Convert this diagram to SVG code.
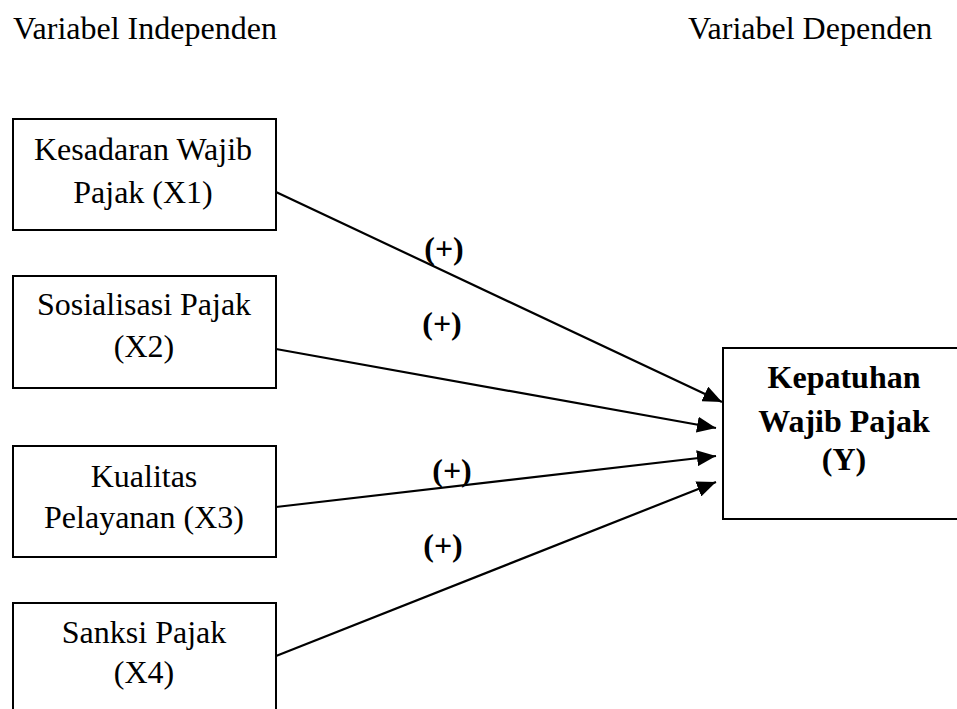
<svg xmlns="http://www.w3.org/2000/svg" width="957" height="709" viewBox="0 0 957 709">
<style>
.t{font-family:"Liberation Serif","Times New Roman",serif;font-size:32px;fill:#000}
.b{font-weight:bold}
.box{fill:#fff;stroke:#000;stroke-width:2}
.c{stroke:#000;stroke-width:2.2;fill:none}
</style>
<defs>
<marker id="ah" markerUnits="userSpaceOnUse" markerWidth="20" markerHeight="16" refX="19" refY="8" orient="auto">
<path d="M0,0 L19,8 L0,16 Z" fill="#000"/>
</marker>
</defs>
<rect width="957" height="709" fill="#fff"/>
<text class="t" x="13" y="39">Variabel Independen</text>
<text class="t" x="688" y="39">Variabel Dependen</text>
<g id="x1">
<rect class="box" x="13" y="119" width="263" height="111"/>
<text class="t" x="143" y="160" text-anchor="middle">Kesadaran Wajib</text>
<text class="t" x="143" y="203" text-anchor="middle">Pajak (X1)</text>
</g>
<g id="x2">
<rect class="box" x="13" y="276" width="263" height="112"/>
<text class="t" x="144" y="315" text-anchor="middle">Sosialisasi Pajak</text>
<text class="t" x="144" y="357" text-anchor="middle">(X2)</text>
</g>
<g id="x3">
<rect class="box" x="13" y="446" width="263" height="111"/>
<text class="t" x="144" y="487" text-anchor="middle">Kualitas</text>
<text class="t" x="144" y="528" text-anchor="middle">Pelayanan (X3)</text>
</g>
<g id="x4">
<rect class="box" x="13" y="603" width="263" height="111"/>
<text class="t" x="144" y="643" text-anchor="middle">Sanksi Pajak</text>
<text class="t" x="144" y="683" text-anchor="middle">(X4)</text>
</g>
<g id="y">
<rect class="box" x="723" y="348" width="250" height="171"/>
<text class="t b" x="844" y="388" text-anchor="middle">Kepatuhan</text>
<text class="t b" x="844" y="432" text-anchor="middle">Wajib Pajak</text>
<text class="t b" x="844" y="470" text-anchor="middle">(Y)</text>
</g>
<g id="connectors">
<line class="c" x1="276" y1="192" x2="722" y2="402" marker-end="url(#ah)"/>
<line class="c" x1="276" y1="349" x2="716" y2="428" marker-end="url(#ah)"/>
<line class="c" x1="276" y1="507" x2="716" y2="456" marker-end="url(#ah)"/>
<line class="c" x1="276" y1="656" x2="716" y2="482" marker-end="url(#ah)"/>
<text class="t b" x="444" y="259" text-anchor="middle">(+)</text>
<text class="t b" x="442" y="334" text-anchor="middle">(+)</text>
<text class="t b" x="452" y="481" text-anchor="middle">(+)</text>
<text class="t b" x="443" y="556" text-anchor="middle">(+)</text>
</g>
</svg>
